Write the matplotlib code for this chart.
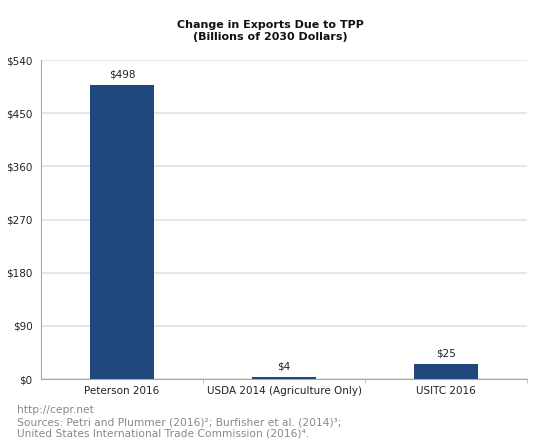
import matplotlib
matplotlib.use('Agg')
import matplotlib.pyplot as plt

# data
categories = ['Peterson 2016', 'USDA 2014 (Agriculture Only)', 'USITC 2016']
values = [498, 4, 25]
yticks = [0, 90, 180, 270, 360, 450, 540]

plt.rcParams['font.family'] = ['DejaVu Sans']

fig = plt.figure(figsize=(5.4, 4.48), dpi=100)
ax = fig.add_axes([0.076, 0.154, 0.9, 0.712])

x = range(len(categories))
rects = ax.bar(x, values, width=0.4, color='#1f497d', zorder=3)
for rect, v in zip(rects, values):
    ax.text(rect.get_x() + rect.get_width() / 2, rect.get_height() + 9, '$' + str(v),
            ha='center', va='bottom', fontsize=7.5, color='#222222')

ax.set_xlim(-0.5, len(categories) - 0.5)
ax.set_ylim(0, 540)
ax.set_yticks(yticks)
ax.set_yticklabels(['$' + str(t) for t in yticks], fontsize=7.5, color='#222222')
ax.set_xticks(list(x))
ax.set_xticklabels(categories, fontsize=7.5, color='#222222')
ax.tick_params(axis='x', length=0, pad=5)
ax.tick_params(axis='y', length=0, pad=6)
# small tick marks at category boundaries
ax.set_xticks([0.5, 1.5, 2.5], minor=True)
ax.tick_params(axis='x', which='minor', length=3, color='#bbbbbb')

ax.grid(axis='y', color='#e3e3e3', linewidth=1.2, zorder=0)
for s in ['top', 'right']:
    ax.spines[s].set_visible(False)
ax.spines['left'].set_color('#aaaaaa')
ax.spines['bottom'].set_color('#aaaaaa')

fig.text(0.5, 0.931, 'Change in Exports Due to TPP\n(Billions of 2030 Dollars)',
         ha='center', va='center', fontsize=8, fontweight='bold', color='#111111',
         linespacing=1.2)

fig.text(0.031, 0.058, 'http://cepr.net\nSources: Petri and Plummer (2016)²; Burfisher et al. (2014)³;\n'
         'United States International Trade Commission (2016)⁴.',
         ha='left', va='center', fontsize=7.7, color='#888888', linespacing=1.2)

fig.savefig('out.png', dpi=100)
